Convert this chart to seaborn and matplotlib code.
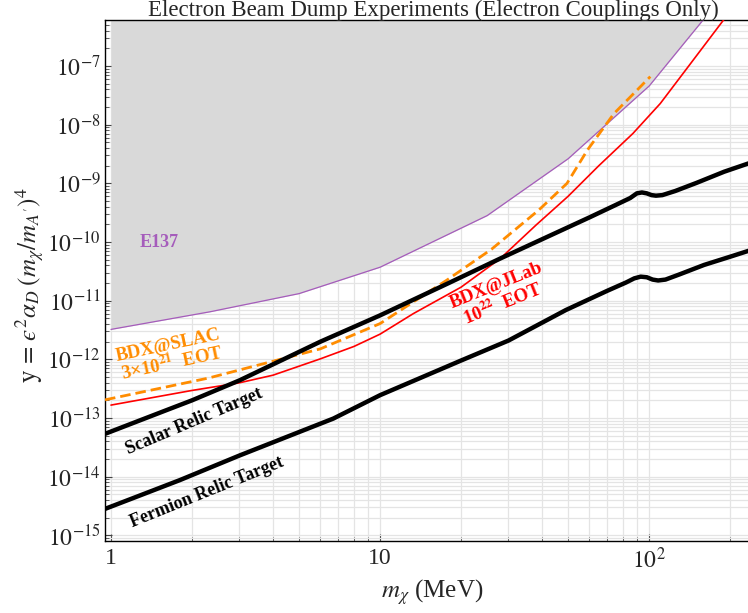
import numpy as np
import pandas as pd
import matplotlib
matplotlib.use("Agg")
import matplotlib.pyplot as plt
from matplotlib.ticker import LogLocator, NullFormatter, FixedLocator, FixedFormatter
import seaborn as sns

# curves (m_chi in MeV, y dimensionless)
e137_m = [1, 2.33, 5, 10, 25, 50, 100, 200]
e137_y = [3.24e-12, 6.46e-12, 1.32e-11, 3.72e-11, 2.82e-10, 2.63e-9, 4.57e-8, 2.24e-6]

jlab_m = [1, 2, 3, 4, 6, 8, 10, 13.3, 20, 28, 38, 50, 65, 87, 110, 134, 189, 200]
jlab_y = [1.66e-13, 2.95e-13, 3.98e-13, 5.37e-13, 1.02e-12, 1.66e-12, 2.69e-12, 6.03e-12,
          1.70e-11, 5.25e-11, 1.95e-10, 6.03e-10, 2.0e-9, 7.08e-9, 2.3e-8, 7.59e-8, 6.1e-7, 8.7e-7]

slac_m = [0.95, 2.3, 6, 10, 17.7, 26, 39, 49.5, 59, 74, 101]
slac_y = [2.04e-13, 4.79e-13, 1.51e-12, 4.07e-12, 2.24e-11, 7.59e-11, 3.55e-10,
          1.0e-9, 3.72e-9, 1.55e-8, 6.61e-8]

scalar_m = [0.95, 1.6, 2, 3, 6, 10, 18, 28, 60, 75, 85, 90, 94, 98, 102, 106, 112,
            125, 150, 190, 234]
scalar_y = [5.37e-14, 1.35e-13, 2.0e-13, 4.37e-13, 2.0e-12, 5.62e-12, 2.0e-11, 5.25e-11,
            2.63e-10, 4.27e-10, 5.62e-10, 6.76e-10, 7.0e-10, 6.76e-10, 6.31e-10, 6.17e-10,
            6.31e-10, 7.41e-10, 1.02e-9, 1.58e-9, 2.19e-9]

fermion_m = [0.95, 1.8, 3, 6.7, 10, 20, 30, 49, 70, 82, 88, 93, 98, 103, 108, 115,
             130, 160, 200, 234]
fermion_y = [2.82e-15, 8.71e-15, 2.29e-14, 9.77e-14, 2.45e-13, 9.55e-13, 2.09e-12,
             6.92e-12, 1.48e-11, 2.04e-11, 2.40e-11, 2.57e-11, 2.51e-11, 2.29e-11,
             2.21e-11, 2.29e-11, 2.82e-11, 4.07e-11, 5.62e-11, 7.08e-11]

y_ticks = [1e-15, 1e-14, 1e-13, 1e-12, 1e-11, 1e-10, 1e-9, 1e-8, 1e-7]
x_ticks = [1, 10, 100]
x_labels = ['1', '10', '$10^2$']

sns.set_theme(style="ticks")
plt.rcParams['font.family'] = ['Liberation Serif', 'DejaVu Serif']
plt.rcParams['mathtext.fontset'] = 'stix'

fig = plt.figure(figsize=(7.48, 6.13), dpi=100)
ax = fig.add_axes([105/748, 1 - 541/613, 1 - 105/748, (541 - 20)/613])
ax.set_xscale('log')
ax.set_yscale('log')

purple = '#a55cbb'
orange = '#ff8c00'
red = '#ff0000'

# E137 excluded region
ax.fill_between(e137_m, e137_y, 1e-4, color='#d9d9d9', lw=0, zorder=1)
sns.lineplot(x=e137_m, y=e137_y, ax=ax, color=purple, lw=0.9, zorder=3)

sns.lineplot(x=jlab_m, y=jlab_y, ax=ax, color=red, lw=1.2, zorder=4)
sns.lineplot(x=slac_m, y=slac_y, ax=ax, color=orange, lw=2.0, zorder=5,
             linestyle=(0, (3.8, 1.8)))
sns.lineplot(x=scalar_m, y=scalar_y, ax=ax, color='black', lw=3.2, zorder=6)
sns.lineplot(x=fermion_m, y=fermion_y, ax=ax, color='black', lw=3.2, zorder=6)

ax.set_xlim(0.95, 233)
ax.set_ylim(8.0e-16, 6.1e-7)

ax.xaxis.set_major_locator(FixedLocator(x_ticks))
ax.xaxis.set_major_formatter(FixedFormatter(x_labels))
ax.xaxis.set_minor_locator(LogLocator(base=10, subs=np.arange(2, 10), numticks=100))
ax.xaxis.set_minor_formatter(NullFormatter())
ax.yaxis.set_major_locator(FixedLocator(y_ticks))
ax.yaxis.set_major_formatter(FixedFormatter([f'$10^{{{int(np.log10(v))}}}$' for v in y_ticks]))
ax.yaxis.set_minor_locator(LogLocator(base=10, subs=np.arange(2, 10), numticks=100))
ax.yaxis.set_minor_formatter(NullFormatter())

ax.grid(True, which='both', color='#e4e4e4', lw=0.9)
ax.set_axisbelow(True)
ax.tick_params(which='both', direction='in', color='#444444', labelsize=17, pad=3)
ax.tick_params(which='major', length=5, width=0.8)
ax.tick_params(which='minor', length=3, width=0.6)
ax.tick_params(axis='x', pad=5)
for side in ['left', 'bottom', 'top']:
    ax.spines[side].set_color('black')
    ax.spines[side].set_linewidth(1.0)
ax.spines['right'].set_visible(False)
ax.set_xlabel('')
ax.set_ylabel('')

# labels
ax.text(1.51, 1.0e-10, 'E137', color=purple, fontsize=13, fontweight='bold',
        ha='center', va='center', zorder=7)
ax.text(1.66, 1.17e-12, 'BDX@SLAC\n3×10$^{\\mathbf{21}}$  EOT', color=orange, fontsize=13.5,
        fontweight='bold', ha='center', va='center', rotation=12,
        rotation_mode='anchor', linespacing=1.0, zorder=7)
ax.text(27.9, 1.23e-11, 'BDX@JLab\n10$^{\\mathbf{22}}$  EOT', color=red, fontsize=13.5,
        fontweight='bold', ha='center', va='center', rotation=22,
        rotation_mode='anchor', linespacing=1.0, zorder=7)
ax.text(2.03, 8.7e-14, 'Scalar Relic Target', color='black', fontsize=13,
        fontweight='bold', ha='center', va='center', rotation=23,
        rotation_mode='anchor', zorder=7)
ax.text(2.27, 5.4e-15, 'Fermion Relic Target', color='black', fontsize=13,
        fontweight='bold', ha='center', va='center', rotation=22,
        rotation_mode='anchor', zorder=7)

fig.text(433/748, 1 - 10/613, 'Electron Beam Dump Experiments (Electron Couplings Only)',
         ha='center', va='center', fontsize=16.5)
fig.text(30/748, 1 - 285/613,
         '$\\mathrm{y}\\,=\\,\u03f5^2\\alpha_D\\;(m_\\chi/m_{A^\\prime})^4$',
         rotation=90, ha='center', va='center', fontsize=18)
fig.text(432/748, 1 - 592/613, r'$m_\chi$ (MeV)', ha='center', va='center', fontsize=18)

fig.savefig('out.png', dpi=100)
